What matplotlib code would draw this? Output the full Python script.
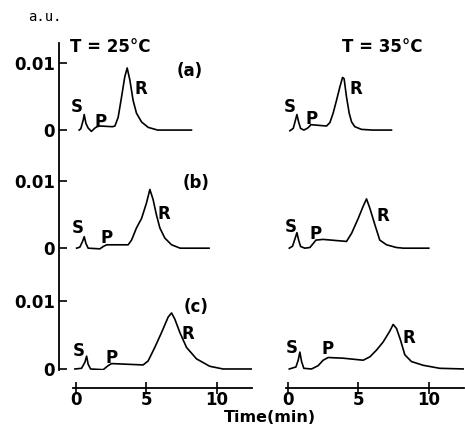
import matplotlib.pyplot as plt

# traces: time (min) and absorbance (x 1e-3 a.u.)
# 25 C column
t_25a = [0.23, 0.35, 0.52, 0.59, 0.71, 0.87, 1.1, 1.35, 1.5, 1.7, 2.6, 2.77, 3.0, 3.24, 3.47, 3.64,
         3.83, 4.06, 4.3, 4.66, 5.13, 5.8, 8.2]
v_25a = [0, 0.2, 1.5, 2.3, 1.0, 0.3, -0.2, 0.3, 0.5, 0.6, 0.5, 0.6, 1.9, 4.9, 7.9, 9.2,
         7.4, 4.4, 2.5, 1.2, 0.4, 0, 0]
t_25b = [0.05, 0.28, 0.47, 0.59, 0.71, 0.87, 1.7, 1.94, 2.18, 3.71, 3.95, 4.3, 4.66, 5.01, 5.25,
         5.48, 5.72, 5.96, 6.31, 6.79, 7.4, 9.45]
v_25b = [0, 0.15, 1.0, 1.7, 0.7, 0, -0.1, 0.25, 0.5, 0.5, 1.2, 3.0, 4.4, 6.7, 8.7,
         7.2, 4.9, 3.0, 1.5, 0.5, 0, 0]
t_25c = [-0.07, 0.4, 0.64, 0.76, 0.87, 1.04, 1.94, 2.29, 2.53, 4.77, 5.13, 5.6, 6.08, 6.55, 6.79,
         7.02, 7.38, 7.85, 8.56, 9.5, 10.45, 12.5]
v_25c = [0, 0.1, 1.0, 1.9, 0.7, 0, -0.1, 0.5, 0.8, 0.6, 1.2, 3.2, 5.4, 7.7, 8.3,
         7.4, 5.4, 3.2, 1.5, 0.4, 0, 0]
# 35 C column
t_35a = [0.14, 0.38, 0.54, 0.64, 0.76, 0.9, 1.13, 1.37, 1.51, 1.63, 2.74, 2.98, 3.21, 3.45, 3.69,
         3.88, 3.99, 4.16, 4.35, 4.52, 4.75, 5.22, 6.0, 7.35]
v_35a = [-0.1, 0.25, 1.5, 2.3, 1.2, 0.25, 0, 0.25, 0.5, 0.8, 0.6, 1.1, 2.5, 4.4, 6.4,
         7.8, 7.6, 4.9, 2.5, 1.2, 0.5, 0.1, 0, 0]
t_35b = [0.1, 0.33, 0.52, 0.64, 0.76, 0.9, 1.2, 1.56, 1.8, 1.99, 2.5, 4.16, 4.52, 4.99, 5.34,
         5.58, 5.82, 6.17, 6.52, 7.0, 7.7, 8.2, 10.0]
v_35b = [0, 0.3, 1.5, 2.3, 1.2, 0.25, 0, 0.1, 0.7, 1.2, 1.3, 1.0, 2.2, 4.4, 6.2,
         7.3, 5.9, 3.5, 1.2, 0.5, 0.1, 0, 0]
t_35c = [0.1, 0.57, 0.73, 0.85, 0.97, 1.13, 1.68, 2.15, 2.5, 2.86, 3.92, 5.34, 5.82, 6.29, 6.76,
         7.23, 7.47, 7.71, 7.99, 8.3, 8.77, 9.6, 10.78, 12.55]
v_35c = [0, 0.3, 1.3, 2.5, 1.1, 0.1, 0, 0.5, 1.3, 1.7, 1.6, 1.3, 1.8, 2.8, 4.0,
         5.6, 6.6, 6.0, 4.3, 2.1, 1.1, 0.55, 0.1, 0]

rows = ['a', 'b', 'c']
row_offset = {'a': 35.4, 'b': 17.9, 'c': 0.0}   # vertical stacking of the three runs

# peak labels (time, height) for S, P, R
lab_25 = {'a': [(0.07, 3.4), (1.77, 1.2), (4.6, 6.1)],
          'b': [(0.14, 3.0), (2.2, 1.5), (6.24, 5.0)],
          'c': [(0.21, 2.7), (2.55, 1.6), (7.94, 5.2)]}
lab_35 = {'a': [(0.14, 3.4), (1.7, 1.6), (4.82, 6.1)],
          'b': [(0.21, 3.1), (1.99, 2.1), (6.74, 4.7)],
          'c': [(0.28, 3.1), (2.84, 3.0), (8.58, 4.6)]}
peak_names = ['S', 'P', 'R']

traces_25 = {'a': (t_25a, v_25a), 'b': (t_25b, v_25b), 'c': (t_25c, v_25c)}
traces_35 = {'a': (t_35a, v_35a), 'b': (t_35b, v_35b), 'c': (t_35c, v_35c)}

plt.rcParams['font.family'] = 'DejaVu Sans'
plt.rcParams['font.weight'] = 'bold'

W, H = 465, 426
fig = plt.figure(figsize=(W / 100, H / 100), dpi=100)
ax_l = fig.add_axes([59 / W, 1 - 370 / H, 193 / W, 327 / H])
ax_r = fig.add_axes([271 / W, 1 - 370 / H, 193 / W, 327 / H])

for ax, traces, labs in [(ax_l, traces_25, lab_25), (ax_r, traces_35, lab_35)]:
    for r in rows:
        t, v = traces[r]
        off = row_offset[r]
        ax.plot(t, [x + off for x in v], color='black', lw=1.2)
        for name, (tx, vy) in zip(peak_names, labs[r]):
            ax.text(tx, vy + off, name, ha='center', va='center', fontsize=12)
    ax.set_xlim(-1.2, 12.5)
    ax.set_ylim(-0.15, 48.3)
    ax.spines['top'].set_visible(False)
    ax.spines['right'].set_visible(False)
    ax.spines['bottom'].set_position(('outward', 13))
    ax.spines['bottom'].set_linewidth(1.3)
    ax.set_xticks([0, 5, 10])
    ax.tick_params(axis='x', direction='inout', length=8, width=1.2, labelsize=12, pad=-2)
    ax.patch.set_alpha(0)

ax_l.spines['bottom'].set_bounds(-0.2, 12.5)
ax_r.spines['bottom'].set_bounds(-0.1, 12.5)

ax_l.spines['left'].set_linewidth(1.3)
yt = []
for r in rows:
    yt += [row_offset[r], row_offset[r] + 10]
ax_l.set_yticks(yt)
ax_l.set_yticklabels(['0', '0.01'] * 3)
ax_l.tick_params(axis='y', direction='in', length=6, width=1.2, labelsize=12, pad=3)

ax_r.spines['left'].set_visible(False)
ax_r.set_yticks([])

ax_l.text(2.41, 12.3 + row_offset['a'], 'T = 25°C', ha='center', va='center', fontsize=12)
ax_r.text(6.67, 12.3 + row_offset['a'], 'T = 35°C', ha='center', va='center', fontsize=12)
ax_l.text(8.1, 8.7 + row_offset['a'], '(a)', ha='center', va='center', fontsize=12)
ax_l.text(8.5, 9.6 + row_offset['b'], '(b)', ha='center', va='center', fontsize=12)
ax_l.text(8.5, 9.2 + row_offset['c'], '(c)', ha='center', va='center', fontsize=12)

fig.text(45 / W, 1 - 17 / H, 'a.u.', ha='center', va='center', fontsize=10,
         family='DejaVu Sans Mono', weight='normal')
fig.text(270 / W, 1 - 417 / H, 'Time(min)', ha='center', va='center', fontsize=11.5)

fig.savefig('out.png', dpi=100)
